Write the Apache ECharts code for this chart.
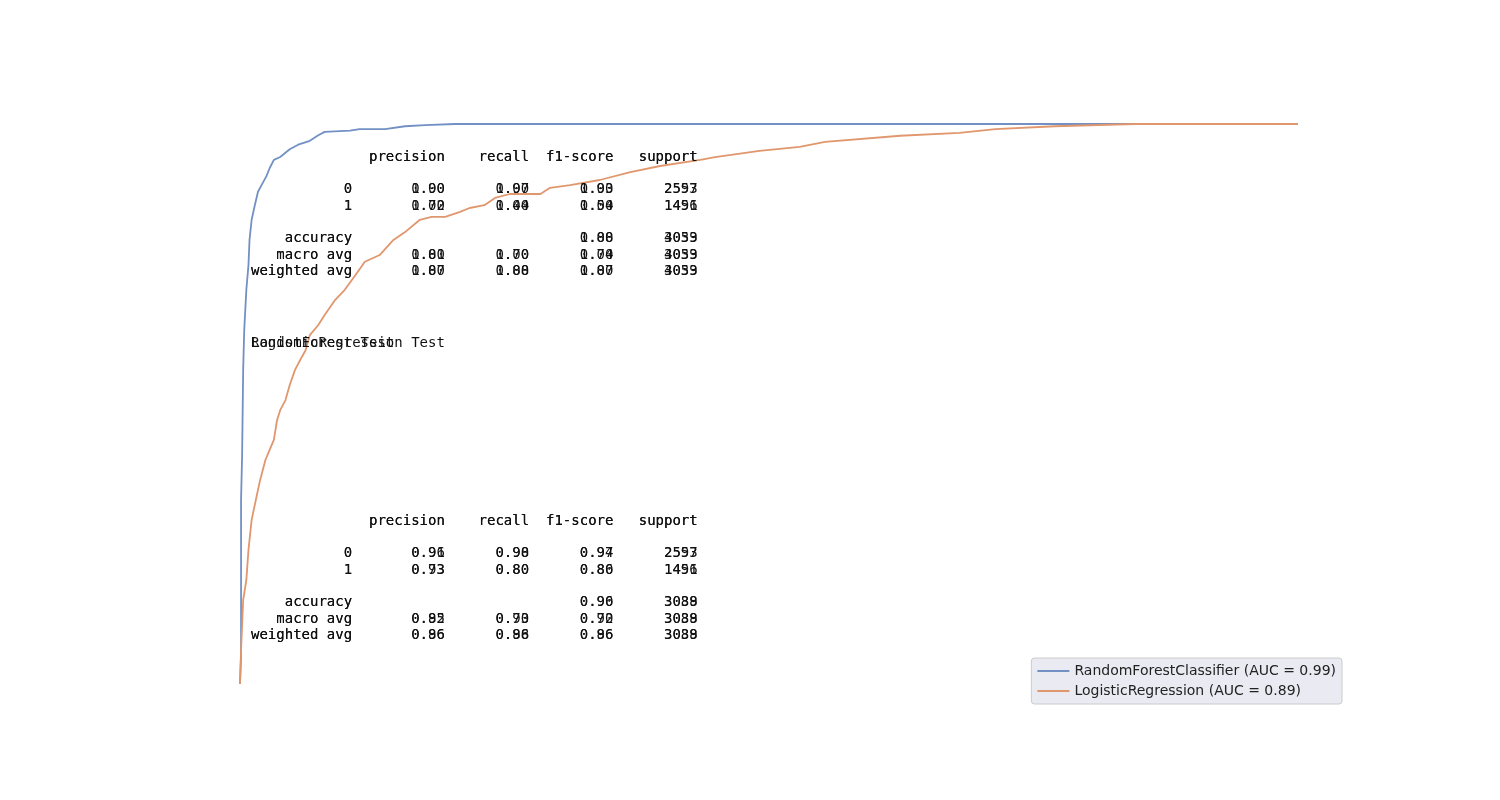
<!DOCTYPE html>
<html><head><meta charset="utf-8">
<script src="https://cdn.jsdelivr.net/npm/echarts@6/dist/echarts.min.js"></script>
<style>html,body{margin:0;padding:0;background:#fff}#c{width:1500px;height:800px}</style>
</head><body><div id="c"></div>
<script>
const rfFpr=[0,0.001,0.001,0.002,0.003,0.004,0.006,0.008,0.009,0.011,0.014,0.017,0.021,0.025,0.028,0.032,0.038,0.047,0.055,0.066,0.074,0.080,0.104,0.113,0.137,0.156,0.175,0.203,1];
const rfTpr=[0,0.052,0.329,0.409,0.561,0.632,0.704,0.748,0.793,0.829,0.855,0.879,0.893,0.907,0.921,0.936,0.941,0.955,0.963,0.970,0.980,0.986,0.988,0.991,0.991,0.996,0.998,1,1];
const lrFpr=[0,0.001,0.003,0.006,0.008,0.011,0.015,0.019,0.024,0.028,0.032,0.035,0.038,0.043,0.047,0.052,0.057,0.062,0.066,0.074,0.080,0.090,0.099,0.109,0.118,0.132,0.145,0.156,0.170,0.181,0.194,0.208,0.217,0.231,0.241,0.255,0.284,0.293,0.312,0.340,0.369,0.397,0.435,0.449,0.491,0.529,0.553,0.624,0.680,0.714,0.770,0.846,1];
const lrTpr=[0,0.061,0.15,0.186,0.239,0.293,0.329,0.364,0.4,0.418,0.436,0.471,0.489,0.507,0.534,0.561,0.579,0.596,0.623,0.641,0.659,0.686,0.704,0.730,0.754,0.766,0.793,0.807,0.829,0.834,0.834,0.843,0.850,0.855,0.868,0.875,0.875,0.886,0.891,0.9,0.914,0.925,0.936,0.941,0.952,0.959,0.968,0.979,0.984,0.991,0.996,1,1];
const seriesNames=['RandomForestClassifier (AUC = 0.99)','LogisticRegression (AUC = 0.89)'];
const reportLabels=['0','1','accuracy','macro avg','weighted avg'];
// [precision, recall, f1, support] rows: class 0, class 1, accuracy(f1,support), macro, weighted
const rfTrain=[[1.00,1.00,1.00,2557],[1.00,1.00,1.00,1496],[null,null,1.00,4053],[1.00,1.00,1.00,4053],[1.00,1.00,1.00,4053]];
const lrTrain=[[0.90,0.97,0.93,2593],[0.72,0.44,0.54,1451],[null,null,0.88,3039],[0.81,0.70,0.74,3039],[0.87,0.88,0.87,3039]];
const rfTest=[[0.96,0.98,0.97,2557],[0.93,0.80,0.86,1496],[0.96,null,0.96,3088],[0.95,0.90,0.92,3088],[0.96,0.96,0.96,3088]];
const lrTest=[[0.91,0.90,0.94,2593],[0.73,0.80,0.80,1451],[null,null,0.90,3039],[0.82,0.73,0.70,3039],[0.86,0.88,0.86,3039]];
const titles=['RandomForest Test','LogisticRegression Test'];

function pad(s,w){s=String(s);while(s.length<w)s=' '+s;return s;}
function report(rows){
  let out=[pad('',12)+' '+' '+pad('precision',9)+' '+pad('recall',9)+' '+pad('f1-score',9)+' '+pad('support',9),''];
  rows.forEach((r,i)=>{
    if(i===2){out.push('');out.push(pad(reportLabels[i],12)+' '+' '+pad('',9)+' '+pad('',9)+' '+pad(r[2].toFixed(2),9)+' '+pad(r[3],9));}
    else out.push(pad(reportLabels[i],12)+' '+' '+pad(r[0].toFixed(2),9)+' '+pad(r[1].toFixed(2),9)+' '+pad(r[2].toFixed(2),9)+' '+pad(r[3],9));
  });
  return out.join('\n');
}
function txt(t,x,y){return {type:'text',left:x,top:y,z:10,style:{text:t,font:'14px "DejaVu Sans Mono"',fill:'#111',lineHeight:16.3}};}
const chart=echarts.init(document.getElementById('c'));
chart.setOption({
  animation:false,
  grid:{left:240,right:202,top:124,bottom:116},
  xAxis:{type:'value',min:0,max:1,show:false},
  yAxis:{type:'value',min:0,max:1,show:false},
  legend:{orient:'vertical',right:158,bottom:96,backgroundColor:'#eaeaf2',borderColor:'#cccccc',borderWidth:1,borderRadius:3,padding:[6,6,6,6],itemGap:6,itemWidth:32,itemHeight:2,icon:'rect',textStyle:{fontFamily:'DejaVu Sans',fontSize:14,color:'#222'},data:seriesNames},
  series:[
    {name:seriesNames[0],type:'line',showSymbol:false,lineStyle:{color:'#7390c4',width:1.8},itemStyle:{color:'#7390c4'},data:rfFpr.map((v,i)=>[v,rfTpr[i]])},
    {name:seriesNames[1],type:'line',showSymbol:false,lineStyle:{color:'#e0976d',width:1.8},itemStyle:{color:'#e0976d'},data:lrFpr.map((v,i)=>[v,lrTpr[i]])}
  ],
  graphic:[
    txt(report(rfTrain),251,149),txt(report(lrTrain),251,149),
    txt(titles[0],251,335),txt(titles[1],251,335),
    txt(report(rfTest),251,513),txt(report(lrTest),251,513)
  ]
});
</script></body></html>
